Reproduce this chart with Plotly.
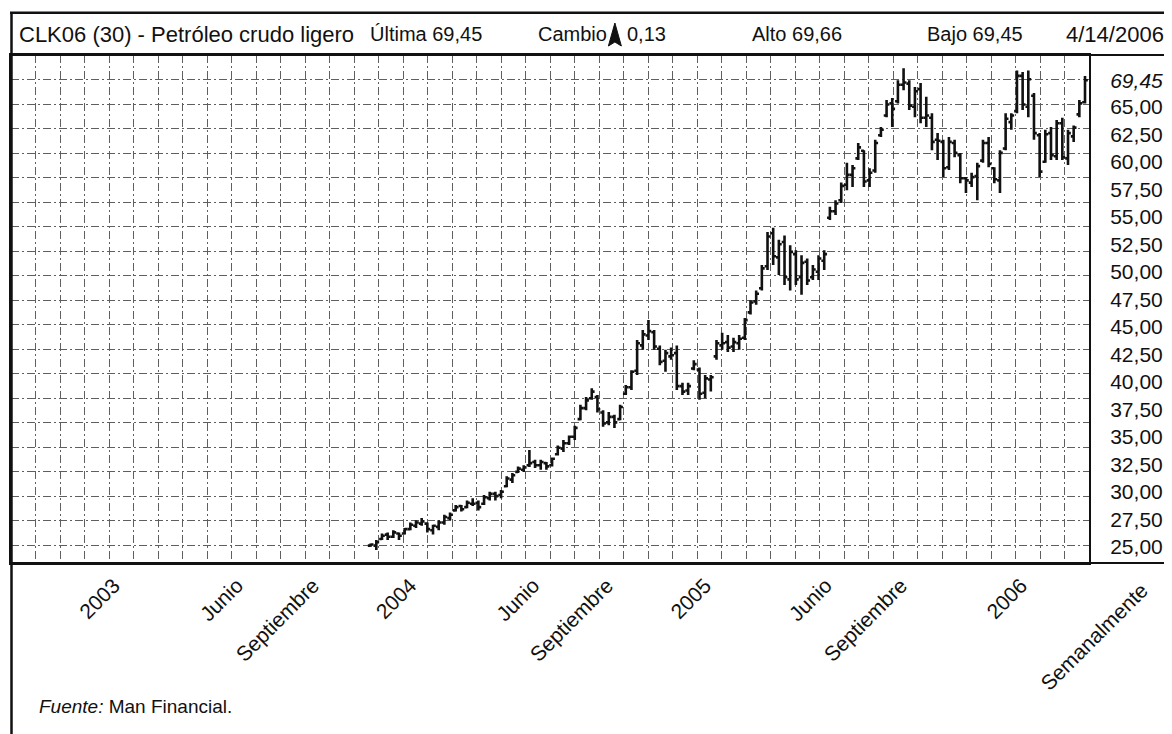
import pandas as pd
import plotly.graph_objects as go

# ---------------- data (weekly bars, CLK06) ----------------
last_date = "2006-04-14"
n_weeks = 127
dates = pd.date_range(end=last_date, periods=n_weeks, freq="7D")

open_ = [25.1, 25.1, 25.7, 26.1, 25.9, 26.2, 26.2, 26.6, 26.9, 27.1,
         27.1, 26.5, 26.8, 27.2, 27.6, 28.3, 28.7, 28.6, 28.9, 29.0,
         28.9, 29.4, 29.8, 29.7, 30.5, 31.1, 31.8, 32.0, 32.4, 32.7,
         32.4, 32.6, 32.4, 33.4, 33.9, 34.4, 35.0, 36.6, 37.6, 38.5,
         38.6, 37.2, 36.3, 36.8, 36.6, 38.9, 39.5, 41.0, 43.3, 44.2,
         44.5, 43.0, 41.9, 42.3, 42.6, 39.6, 39.2, 41.2, 41.1, 39.0,
         40.2, 42.3, 43.3, 43.6, 43.2, 43.5, 44.0, 46.3, 47.3, 48.5,
         50.5, 53.5, 51.3, 52.7, 49.3, 51.6, 49.5, 50.9, 49.5, 50.0,
         51.0, 54.9, 55.5, 56.5, 57.9, 58.8, 60.3, 61.0, 58.3, 59.2,
         62.4, 64.2, 65.3, 65.5, 67.0, 67.1, 65.0, 66.6, 64.0, 64.0,
         62.0, 61.8, 59.5, 61.7, 60.6, 58.5, 58.1, 58.7, 60.1, 61.7,
         59.4, 58.3, 61.2, 63.6, 64.6, 67.8, 65.0, 66.0, 62.4, 60.0,
         62.6, 60.5, 63.5, 60.3, 62.3, 64.3, 65.4]
high = [25.3, 25.6, 26.2, 26.3, 26.5, 26.3, 26.7, 27.2, 27.4, 27.6,
        27.2, 27.0, 27.4, 27.9, 28.1, 28.8, 28.8, 29.2, 29.4, 29.2,
        29.7, 30.0, 30.0, 30.15, 31.4, 31.7, 32.3, 32.4, 33.8, 32.9,
        32.9, 32.7, 33.1, 34.2, 34.7, 35.1, 36.0, 37.9, 38.6, 39.4,
        38.8, 37.4, 37.25, 37.0, 37.9, 39.7, 41.05, 43.8, 44.7, 45.6,
        44.7, 43.3, 42.9, 43.1, 43.3, 39.9, 39.9, 41.95, 41.3, 40.6,
        40.6, 43.8, 44.45, 44.25, 44.0, 44.25, 45.8, 47.4, 48.3, 50.6,
        53.6, 54.0, 52.9, 53.3, 52.4, 51.95, 51.5, 51.2, 50.6, 51.5,
        51.95, 55.9, 56.5, 58.1, 59.9, 59.7, 61.7, 61.05, 59.4, 62.0,
        63.15, 65.6, 65.8, 67.4, 68.5, 67.4, 66.8, 67.15, 65.9, 64.4,
        62.6, 62.0, 62.25, 62.0, 60.8, 58.6, 59.0, 59.9, 62.0, 62.25,
        59.5, 61.05, 64.4, 64.4, 68.3, 68.15, 68.3, 66.25, 62.6, 62.9,
        63.15, 63.8, 64.0, 62.9, 63.3, 65.6, 67.8]
low = [25.0, 24.7, 25.6, 25.6, 25.8, 25.6, 26.1, 26.5, 26.7, 26.9,
       26.3, 26.1, 26.5, 27.0, 27.4, 28.2, 28.2, 28.5, 28.7, 28.3,
       28.8, 29.2, 29.2, 29.4, 30.4, 30.8, 31.7, 31.8, 32.25, 32.15,
       32.0, 32.0, 32.3, 33.3, 33.6, 34.25, 34.7, 36.5, 37.4, 38.35,
       37.2, 35.9, 36.05, 35.8, 36.5, 38.8, 39.25, 40.6, 42.9, 43.8,
       42.9, 41.5, 40.9, 42.0, 39.25, 38.8, 38.8, 41.05, 38.35, 38.5,
       39.1, 42.0, 42.9, 42.7, 42.7, 42.9, 43.8, 46.1, 47.0, 48.3,
       50.15, 50.6, 49.7, 48.8, 48.3, 48.8, 47.9, 48.8, 49.25, 49.25,
       50.15, 54.7, 55.15, 56.25, 57.4, 57.7, 60.15, 57.7, 57.7, 59.0,
       62.25, 64.05, 63.15, 65.3, 66.5, 64.7, 64.05, 63.5, 63.15, 61.05,
       60.15, 58.6, 59.25, 60.4, 58.05, 57.15, 57.7, 56.5, 59.9, 59.5,
       58.05, 57.15, 61.05, 62.9, 64.4, 64.7, 64.05, 62.0, 58.6, 59.9,
       60.15, 60.15, 60.15, 59.7, 61.8, 64.05, 65.3]
close = [25.2, 25.4, 26.0, 25.9, 26.3, 26.0, 26.6, 27.0, 27.2, 27.3,
         26.6, 26.9, 27.2, 27.7, 27.9, 28.6, 28.4, 29.0, 28.9, 28.6,
         29.5, 29.8, 29.6, 30.0, 31.2, 31.5, 32.1, 32.2, 32.6, 32.4,
         32.7, 32.3, 33.0, 34.0, 34.4, 35.0, 35.8, 37.6, 38.3, 39.1,
         37.5, 36.2, 36.8, 36.3, 37.7, 39.5, 40.9, 43.5, 44.3, 44.6,
         43.2, 41.8, 42.6, 42.4, 39.6, 39.1, 39.6, 41.6, 38.9, 40.3,
         40.4, 43.5, 43.5, 43.1, 43.6, 43.9, 45.6, 47.2, 48.0, 50.3,
         53.2, 51.4, 52.5, 49.5, 51.8, 49.3, 50.8, 49.2, 50.2, 51.2,
         51.6, 55.5, 56.2, 57.8, 58.8, 59.4, 61.3, 58.2, 59.0, 61.7,
         62.9, 65.2, 64.8, 67.0, 67.2, 65.1, 66.4, 64.0, 64.2, 61.8,
         61.9, 59.4, 61.8, 60.8, 58.5, 58.3, 58.6, 59.6, 61.7, 59.8,
         58.4, 60.8, 63.9, 64.2, 67.8, 65.2, 67.5, 62.6, 59.1, 62.5,
         60.6, 63.5, 60.4, 62.6, 63.1, 65.3, 67.4]

# header values
symbol = "CLK06 (30) - Petróleo crudo ligero"
ultima = 69.45
cambio = 0.13
alto = 69.66
bajo = 69.45
fecha = "4/14/2006"
fuente = "Man Financial."

# axis labels
y_ticks = [25.0, 27.5, 30.0, 32.5, 35.0, 37.5, 40.0, 42.5, 45.0, 47.5,
           50.0, 52.5, 55.0, 57.5, 60.0, 62.5, 65.0]
x_tick_labels = ["2003", "Junio", "Septiembre", "2004", "Junio", "Septiembre",
                 "2005", "Junio", "Septiembre", "2006"]
x_tick_dates = ["2003-01-01", "2003-06-02", "2003-09-04", "2004-01-02",
                "2004-06-02", "2004-09-01", "2004-12-31", "2005-05-29",
                "2005-08-30", "2006-01-25"]
period_label = "Semanalmente"


def es(v):
    return f"{v:.2f}".replace(".", ",")


FONT = "Liberation Sans, Arial, Helvetica, sans-serif"
INK = "#111111"
# the page body has an 8px margin: the figure covers 8..1172 x 8..734
OFF = 8
W, H = 1172 - OFF, 734 - OFF
# plot area in page pixels: x 9..1089, y 55..563
P_L, P_R, P_T, P_B = 9, 1089, 55, 563
L_M, R_M, T_M, B_M = P_L - OFF, W - (P_R - OFF), P_T - OFF, H - (P_B - OFF)
PW = P_R - P_L
PH = P_B - P_T


def px(xpage):
    return (xpage - P_L) / PW


def py(ypage):
    return (P_B - ypage) / PH


# x scale (~5.68 px per week), last bar at x=1085
ppd = 5.68 / 7.0
last = pd.Timestamp(last_date)
x_right = last + pd.Timedelta(days=(P_R - 1085) / ppd)
x_left = last - pd.Timedelta(days=(1085 - P_L) / ppd)
grid_dx_ms = (PW / 44.0) / ppd * 86400000.0

# y scale: 11 px per unit, 65 at y=106.7
y_top = 65 + (106.7 - P_T) / 11.0
y_bot = 25 - (P_B - 546.7) / 11.0
grid_dy = 24.5 / 11.0

fig = go.Figure()
fig.add_trace(go.Ohlc(
    x=dates, open=open_, high=high, low=low, close=close,
    increasing=dict(line=dict(color=INK, width=2.6)),
    decreasing=dict(line=dict(color=INK, width=2.6)),
    tickwidth=0.5, showlegend=False, hoverinfo="skip",
))

grid_color, grid_dash, grid_w = "#5f5f5f", "8px,3px,2px,3px", 1.4

fig.update_layout(
    width=W, height=H,
    margin=dict(l=L_M, r=R_M, t=T_M, b=B_M, pad=0),
    paper_bgcolor="white", plot_bgcolor="white",
    font=dict(family=FONT, size=20, color=INK),
    showlegend=False,
    xaxis=dict(
        type="date", range=[x_left, x_right], rangeslider=dict(visible=False),
        tickmode="array", tickvals=x_tick_dates, ticktext=x_tick_labels,
        tickangle=-45, ticks="", showgrid=False, zeroline=False,
        showline=True, mirror=True, linecolor=INK, linewidth=2,
        tickfont=dict(size=21, family=FONT, color=INK),
        minor=dict(showgrid=True, tick0=x_left, dtick=grid_dx_ms, ticks="",
                   gridcolor=grid_color, griddash=grid_dash, gridwidth=grid_w),
        fixedrange=True,
    ),
    yaxis=dict(
        range=[y_bot, y_top], side="right",
        tickmode="array",
        tickvals=y_ticks + [close[-1]],
        ticktext=[es(v) for v in y_ticks] + [f"<i>{es(ultima)}</i>"],
        ticks="", showgrid=False, zeroline=False, ticklabelstandoff=15,
        showline=True, mirror=True, linecolor=INK, linewidth=2,
        tickfont=dict(size=21, family=FONT, color=INK),
        minor=dict(showgrid=True, tick0=y_top, dtick=grid_dy, ticks="",
                   gridcolor=grid_color, griddash=grid_dash, gridwidth=grid_w),
        fixedrange=True,
    ),
)

# frame lines
frame = dict(color=INK, width=2)
shapes = [
    dict(type="line", xref="paper", yref="paper", x0=px(8), x1=px(1180),
         y0=py(12.7), y1=py(12.7), line=dict(color=INK, width=2.5)),
    dict(type="line", xref="paper", yref="paper", x0=0, x1=px(1180),
         y0=1, y1=1, line=frame),
    dict(type="line", xref="paper", yref="paper", x0=0, x1=px(1180),
         y0=0, y1=0, line=frame),
    dict(type="line", xref="paper", yref="paper", x0=px(9.5), x1=px(9.5),
         y0=py(740), y1=py(12.7), line=dict(color=INK, width=2.5)),
    # arrow for "Cambio"
    dict(type="path", xref="paper", yref="paper",
         path=f"M {px(614)} {py(23)} L {px(620.5)} {py(46)} L {px(614)} {py(42)} "
              f"L {px(607.5)} {py(46)} Z",
         fillcolor=INK, line=dict(color=INK, width=1)),
]
fig.update_layout(shapes=shapes)

hy = py(34)
ann = [
    (symbol, 15, 22), (f"Última {es(ultima)}", 367, 20), ("Cambio", 535, 20),
    (es(cambio), 624, 20), (f"Alto {es(alto)}", 749, 20),
    (f"Bajo {es(bajo)}", 925, 20), (fecha, 1064, 22),
]
annotations = []
for text, xpage, fs in ann:
    annotations.append(dict(text=text, x=px(xpage), y=hy, xref="paper", yref="paper",
                            xanchor="left", yanchor="middle", showarrow=False,
                            font=dict(size=fs, family=FONT, color=INK)))
annotations.append(dict(text=f"<i>Fuente:</i> {fuente}", x=px(35), y=py(706),
                        xref="paper", yref="paper", xanchor="left", yanchor="middle",
                        showarrow=False, font=dict(size=19, family=FONT, color=INK)))
annotations.append(dict(text=period_label, x=px(1094), y=py(636), xref="paper",
                        yref="paper", xanchor="center", yanchor="middle",
                        textangle=-45, showarrow=False,
                        font=dict(size=21, family=FONT, color=INK)))
fig.update_layout(annotations=annotations)

fig.write_html("out.html")
